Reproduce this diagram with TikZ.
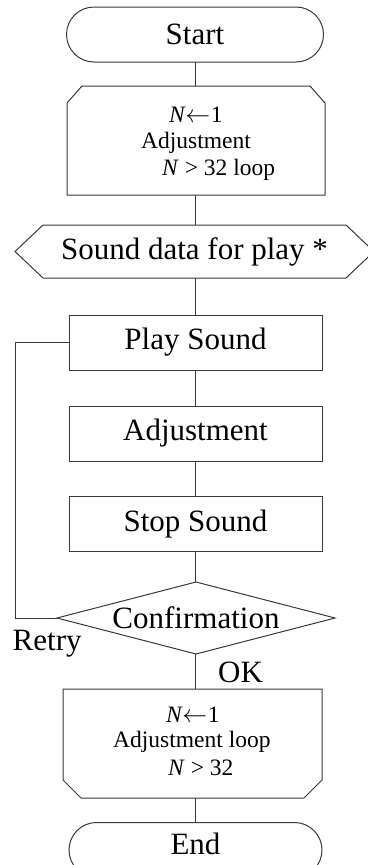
\documentclass[tikz,border=0pt]{standalone}
\usepackage{fontspec}
\setmainfont{Liberation Serif}
\usetikzlibrary{shapes.misc}
\newcommand{\larr}{\kern-0.5pt$\leftarrow$\kern0.5pt}
\begin{document}
\begin{tikzpicture}[x=1pt,y=-1pt,
  ln/.style={draw=black!78,line width=1pt},
  big/.style={font=\fontsize{31}{36}\selectfont},
  small/.style={font=\fontsize{23.5}{28}\selectfont,inner sep=0pt,anchor=base west},
  box/.style={ln,rectangle,inner sep=0pt,outer sep=0pt,minimum width=253,minimum height=55,big},
  term/.style={box,rounded rectangle},
  ghost/.style={rectangle,inner sep=0pt,outer sep=0pt,draw=none}]
\useasboundingbox (0,0) rectangle (367,865);

% nodes
\node[term,minimum width=257] (start) at (195,34.5) {Start};
\node[ghost,minimum width=258,minimum height=109] (lb) at (196,140.5) {};
\node[ghost,big,minimum width=359,minimum height=53] (prep) at (194.5,251.5) {Sound data for play *};
\node[box] (play) at (195.5,342.5) {Play Sound};
\node[box] (adj) at (195.5,433.5) {Adjustment};
\node[box] (stop) at (195.5,524) {Stop Sound};
\node[ghost,big,minimum width=278,minimum height=72] (conf) at (196,618) {Confirmation};
\node[ghost,minimum width=259,minimum height=109] (le) at (192.5,743.5) {};
\node[term,minimum width=253] (end) at (195.5,850) {};
\node[big,inner sep=0pt] (endtxt) at (195.5,844) {End};

% outlines
\draw[ln] (lb.south west) -- ([yshift=-17pt]lb.north west) -- ([xshift=15pt]lb.north west)
  -- ([xshift=-15pt]lb.north east) -- ([yshift=-17pt]lb.north east) -- (lb.south east) -- cycle;
\draw[ln] (prep.west) -- ([xshift=28pt]prep.north west) -- ([xshift=-28pt]prep.north east)
  -- (prep.east) -- ([xshift=-28pt]prep.south east) -- ([xshift=28pt]prep.south west) -- cycle;
\draw[ln] (conf.north) -- (conf.east) -- (conf.south) -- (conf.west) -- cycle;
\draw[ln] (le.north west) -- (le.north east) -- ([yshift=18pt]le.south east) -- ([xshift=-18pt]le.south east)
  -- ([xshift=18pt]le.south west) -- ([yshift=18pt]le.south west) -- cycle;

% box texts
\node[small] (t1) at (169,122) {\textit{N}\larr 1};
\node[small] (t2) at (141,148) {Adjustment};
\node[small] (t3) at (162,175) {\textit{N} > 32 loop};
\node[small] (b1) at (166,722) {\textit{N}\larr 1};
\node[small] (b2) at (113,747) {Adjustment loop};
\node[small] (b3) at (168,775) {\textit{N} > 32};

% connectors
\draw[ln] (start.south) -- (start.south |- lb.north);
\draw[ln] (start.south |- lb.south) -- (start.south |- prep.north);
\draw[ln] (play.north |- prep.south) -- (play.north);
\draw[ln] (play.south) -- (adj.north);
\draw[ln] (adj.south) -- (stop.north);
\draw[ln] (stop.south) -- (stop.south |- conf.north);
\draw[ln] (stop.south |- conf.south) -- (stop.south |- le.north);
\draw[ln] (stop.south |- le.south) -- (end.north);

% retry loop
\coordinate (lx) at (15.5,0);
\draw[ln] (play.west) -- (play.west -| lx) -- (conf.west -| lx) -- (conf.west);

% labels
\node[big,inner sep=0pt,anchor=base west] (retry) at (12.5,650) {Retry};
\node[big,inner sep=0pt,anchor=base west] (ok) at (218,682) {OK};
\end{tikzpicture}
\end{document}
